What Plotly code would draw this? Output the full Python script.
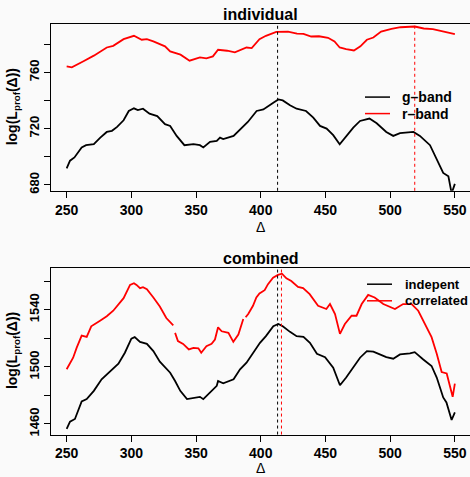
import plotly.graph_objects as go

# ---------------- data: top panel "individual" ----------------
g_delta = [250, 252.6, 256, 261.6, 265, 271, 276, 281, 285, 289, 294, 298, 302, 305, 309, 314, 320, 326, 330, 335,
           341, 348, 353, 355.6, 360.8, 366, 368.5, 371, 379, 384, 390, 396.8, 402, 409.7, 413.6, 417, 422.6, 427.7, 435, 440.6,
           445.8, 450.9, 456, 461, 466, 471.5, 476.7, 484, 489.6, 497, 502.4, 507.6, 518, 523, 530.8, 536, 541, 545, 547.5, 550]
g_band = [691.8, 697.2, 699.5, 706.6, 708.2, 708.9, 713.6, 717.6, 718.4, 721.2, 725.9, 732.5, 734.4, 733.2, 734.1, 730.6, 728.9, 723.1, 721.9, 714.8,
          708.2, 708.9, 708.2, 706.6, 710.6, 711.3, 713.6, 712.5, 714.8, 719.1, 724.7, 732.5, 733.6, 738.4, 740.7, 740.0, 736.5, 734.1, 732.5, 727.8,
          721.9, 720.0, 715.3, 708.9, 714.8, 720.7, 725.4, 727.1, 723.8, 717.6, 714.8, 716.7, 717.6, 714.8, 708.2, 698.4, 688.5, 686.1, 674.0, 680.7]

r_delta = [250, 254, 263, 271, 281, 286, 294, 302, 308, 312, 317, 326, 330, 338, 345, 350, 353, 358, 363, 367,
           374, 380, 389, 393, 399, 404, 412, 421, 428, 433, 439, 445, 452, 457, 461, 466, 472, 477, 482, 487,
           493, 501, 508, 519, 526, 533, 541, 550]
r_band = [764.2, 763.5, 767.8, 771.8, 777.6, 778.8, 783.5, 785.9, 783.1, 783.5, 781.9, 778.4, 774.8, 772.5, 768.2, 769.4, 770.6, 769.9, 771.3, 776.0,
          775.3, 774.1, 777.6, 777.2, 783.5, 785.9, 788.7, 788.9, 787.5, 787.3, 785.4, 785.6, 784.5, 781.9, 777.6, 776.5, 775.5, 778.4, 783.1, 784.7,
          788.9, 790.8, 792.0, 792.5, 791.1, 790.6, 788.9, 787.1]

top_peaks = [413, 519]          # g-band, r-band maxima
top_names = ["g\u2013band", "r\u2013band"]

# ---------------- data: bottom panel "combined" ----------------
i_delta = [250, 252.6, 256.4, 261.6, 265.5, 271, 277, 283.5, 290, 295, 300, 302.6, 306.7, 312, 317, 322, 330, 333.8, 337.8, 343,
           348, 353, 355.6, 360.8, 366, 367, 371, 379, 384, 389, 394, 399.4, 404, 409.7, 413.6, 417, 422.6, 427.7, 433, 438,
           443.4, 449.7, 456, 461.2, 466, 471.5, 476.7, 482, 487, 492, 497, 502.4, 507.6, 515.3, 519, 525.6, 532, 536, 541, 543.5,
           547.5, 550]
indepent = [1456.5, 1461.6, 1463.5, 1475.8, 1477.4, 1483.2, 1491.3, 1497.1, 1502.2, 1509.9, 1519.8, 1520.8, 1517.5, 1516.1, 1511.0, 1503.6, 1495.9, 1490.1, 1483.2, 1477.4,
            1478.1, 1479.0, 1477.4, 1482.0, 1486.7, 1490.1, 1488.5, 1491.3, 1498.3, 1502.9, 1509.9, 1516.8, 1521.5, 1528.4, 1530.0, 1528.4, 1524.5, 1521.5, 1521.0, 1516.8,
            1509.2, 1506.8, 1499.4, 1487.1, 1492.5, 1499.4, 1506.4, 1511.0, 1510.6, 1508.7, 1506.8, 1505.7, 1508.7, 1509.4, 1510.3, 1505.2, 1500.6, 1492.5, 1478.6, 1475.1,
            1462.8, 1468.1]

c_delta = [250, 252.6, 255, 257.7, 261.6, 265.5, 269, 275.8, 281, 286, 290, 294, 299, 302, 304, 306.7, 309, 312, 317, 322,
           327, 331, 332.4, 333.1, 333.8, 336, 340, 344.4, 348, 351.8, 354, 358, 362, 364.6, 367, 369.8, 375, 378.8, 382.7, 386.5,
           387.4, 388.3, 390.3, 394, 396.6, 399, 403, 405.6, 409.5, 413.3, 416.4, 419.8, 423.6, 428.8, 432.7, 437.8, 444.3, 450.7, 453.5, 457.4,
           461.2, 465, 470.2, 474, 478, 483, 488, 494.7, 503.7, 510, 516.6, 521.7, 528, 532, 536, 539.8, 543.7, 548.3, 550]
correlated = [1498.3, 1502.9, 1506.4, 1513.3, 1521.9, 1521.0, 1528.4, 1532.3, 1535.4, 1539.3, 1543.5, 1548.1, 1557.4, 1558.6, 1557.4, 1555.1, 1555.8, 1554.4, 1548.6, 1542.3,
              1534.2, 1530.7, 1529.0, None, 1523.8, 1518.0, 1516.1, 1512.2, 1513.3, 1513.0, 1509.9, 1514.5, 1516.1, 1519.1, 1527.7, 1524.9, 1523.8, 1517.5, 1522.6, 1533.5,
              None, 1534.7, 1537.0, 1542.8, 1548.6, 1551.4, 1553.7, 1557.9, 1562.5, 1564.4, 1565.2, 1562.0, 1560.1, 1556.0, 1555.1, 1550.9, 1542.8, 1540.5, 1544.0, 1537.0,
              1523.1, 1530.0, 1535.8, 1535.8, 1544.0, 1550.4, 1548.6, 1544.0, 1540.5, 1544.0, 1544.0, 1539.3, 1527.7, 1520.8, 1509.2, 1496.4, 1495.4, 1479.0, 1488.3]

bottom_peaks = [413, 416]       # indepent, correlated maxima
bottom_names = ["indepent", "correlated"]

top_yticks = [680, 720, 760]
bot_yticks = [1460, 1500, 1540]
xticks = [250, 300, 350, 400, 450, 500, 550]

# ---------------- layout constants (pixels) ----------------
W, H = 470, 477
L = 51
FONT = "Liberation Sans, Arial, Helvetica, sans-serif"
BG = "#fafafa"
top_box = (24, 192)
bot_box = (269.3, 437.3)
COLORS = ["black", "red"]


def ydom(box):
    return [1 - box[1] / H, 1 - box[0] / H]


fig = go.Figure()
fig.add_trace(go.Scatter(x=g_delta, y=g_band, mode="lines", name=top_names[0],
                         line=dict(color="black", width=1.8), xaxis="x", yaxis="y"))
fig.add_trace(go.Scatter(x=r_delta, y=r_band, mode="lines", name=top_names[1],
                         line=dict(color="red", width=1.8), xaxis="x", yaxis="y"))
fig.add_trace(go.Scatter(x=i_delta, y=indepent, mode="lines", name=bottom_names[0],
                         line=dict(color="black", width=1.8), xaxis="x2", yaxis="y2"))
fig.add_trace(go.Scatter(x=c_delta, y=correlated, mode="lines", name=bottom_names[1], connectgaps=False,
                         line=dict(color="red", width=1.8), xaxis="x2", yaxis="y2"))

shapes = []
for xv, col in zip(top_peaks, COLORS):
    shapes.append(dict(type="line", xref="x", yref="y domain", x0=xv, x1=xv, y0=0, y1=1,
                       line=dict(color=col, width=1, dash="3px,3px")))
for xv, col in zip(bottom_peaks, COLORS):
    shapes.append(dict(type="line", xref="x2", yref="y2 domain", x0=xv, x1=xv, y0=0, y1=1,
                       line=dict(color=col, width=1, dash="3px,3px")))

xr = [237.9, 237.9 + (W - L) / 1.294]
tickfont = dict(family=FONT, size=14, color="black", weight="bold")
ytickfont = dict(family=FONT, size=13, color="black", weight="bold")
xcommon = dict(range=xr, tickvals=xticks, ticks="outside", ticklen=6, tickwidth=1, tickcolor="black",
               showline=True, linecolor="black", linewidth=1, mirror=True, showgrid=False, zeroline=False,
               tickfont=tickfont, domain=[L / W, 1])
ycommon = dict(ticks="outside", ticklen=6, tickwidth=1, tickcolor="black", tickangle=-90,
               showline=True, linecolor="black", linewidth=1, showgrid=False, zeroline=False,
               tickfont=ytickfont)

annotations = []
cx = (L + W + 0.6) / 2 / W
for text, ypx in [("individual", 15), ("combined", 260)]:
    annotations.append(dict(text=text, x=cx, y=1 - ypx / H, xref="paper", yref="paper", showarrow=False,
                            xanchor="center", yanchor="middle",
                            font=dict(family=FONT, size=16, color="black", weight="bold")))
for ypx in [228, 471]:
    annotations.append(dict(text="\u0394", x=cx, y=1 - ypx / H, xref="paper", yref="paper", showarrow=False,
                            xanchor="center", yanchor="middle",
                            font=dict(family=FONT, size=14, color="black")))
for box in [top_box, bot_box]:
    annotations.append(dict(text="log(L<sub>prof</sub>(\u0394))", x=13 / W, y=1 - (box[0] + box[1]) / 2 / H,
                            xref="paper", yref="paper", showarrow=False, textangle=-90,
                            xanchor="center", yanchor="middle",
                            font=dict(family=FONT, size=14, color="black", weight="bold")))

# legends (line sample + label), positioned in pixels like the reference
legend_specs = [
    (top_names, 365, 390, 400, [97.7, 114.3], 14),
    (bottom_names, 367, 392, 403, [286.0, 302.7], 13),
]
for names, lx0, lx1, tx, ys, fsize in legend_specs:
    for name, col, ypx in zip(names, COLORS, ys):
        yp = 1 - ypx / H
        shapes.append(dict(type="line", xref="paper", yref="paper", x0=lx0 / W, x1=lx1 / W, y0=yp, y1=yp,
                           line=dict(color=col, width=1.5)))
        annotations.append(dict(text=name, x=tx / W, y=yp, xref="paper", yref="paper", showarrow=False,
                                xanchor="left", yanchor="middle",
                                font=dict(family=FONT, size=fsize, color="black", weight="bold")))

minor_top = dict(tick0=top_yticks[0], dtick=20, ticks="outside", ticklen=6, tickwidth=1,
                 tickcolor="black", showgrid=False)
minor_bot = dict(tick0=bot_yticks[0], dtick=20, ticks="outside", ticklen=6, tickwidth=1,
                 tickcolor="black", showgrid=False)

fig.update_layout(
    width=W, height=H, margin=dict(l=0, r=0, t=0, b=0),
    paper_bgcolor=BG, plot_bgcolor=BG, showlegend=False,
    xaxis=dict(anchor="y", **xcommon),
    yaxis=dict(anchor="x", domain=ydom(top_box), range=[675.8, 794.4],
               tickvals=top_yticks, minor=minor_top, **ycommon),
    xaxis2=dict(anchor="y2", **xcommon),
    yaxis2=dict(anchor="x2", domain=ydom(bot_box), range=[1452.6, 1569.5],
                tickvals=bot_yticks, minor=minor_bot, **ycommon),
    shapes=shapes, annotations=annotations,
)

fig.write_html("out.html")
